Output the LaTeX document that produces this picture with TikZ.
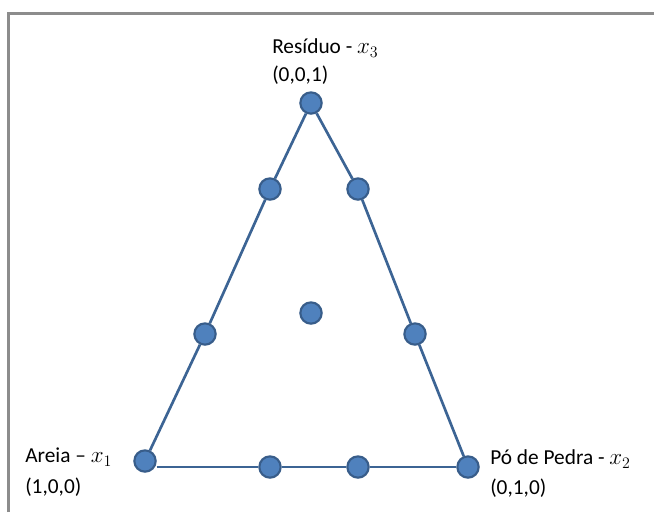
\documentclass[tikz,border=0pt]{standalone}
\usepackage{fontspec}
\setmainfont{Carlito}
\newcommand{\varx}[1]{{\fontsize{18}{19}\selectfont$x_{#1}$}}
\begin{document}
\begin{tikzpicture}[x=0.75pt,y=-0.75pt,
  dot/.style={circle,draw=dotedge,fill=dotfill,line width=1.6pt,minimum size=16pt,inner sep=0pt},
  edge/.style={draw=lineblue,line width=2pt},
  lbl/.style={anchor=west,inner sep=0pt,font=\fontsize{16}{19}\selectfont,text=black,align=left}]
\definecolor{dotfill}{HTML}{4F81BD}
\definecolor{dotedge}{HTML}{385D8A}
\definecolor{lineblue}{HTML}{3C6494}
\definecolor{framegray}{HTML}{8C8C8C}
\useasboundingbox (0,0) rectangle (654,512);
% frame
\draw[framegray,line width=1.6pt] (8.5,512) -- (8.5,13.5) -- (654,13.5);
% vertices and design points
\node[dot] (v3) at (311,103) {};
\node[dot] (v1) at (145,461) {};
\node[dot] (v2) at (468,467) {};
\node[dot] (b1) at (270,467) {};
\node[dot] (b2) at (358,467) {};
\node[dot] (l1) at (270,189) {};
\node[dot] (l2) at (205,334) {};
\node[dot] (r1) at (358,189) {};
\node[dot] (r2) at (415,334) {};
\node[dot] (c) at (311,313) {};
% triangle sides
\draw[edge] (v3) -- (l1) -- (l2) -- (v1);
\draw[edge] (v3) -- (r1) -- (r2) -- (v2);
\draw[edge] (v1.east |- b1) -- (b1) -- (b2) -- (v2);
% labels
\node[lbl] (t3a) at (272,48) {Resíduo - \varx{3}};
\node[lbl] (t3b) at (272,75) {(0,0,1)};
\node[lbl] (t1a) at (25,457) {Areia – \varx{1}};
\node[lbl] (t1b) at (25,487) {(1,0,0)};
\node[lbl] (t2a) at (490,459) {Pó de Pedra - \varx{2}};
\node[lbl] (t2b) at (490,488) {(0,1,0)};
\end{tikzpicture}
\end{document}
